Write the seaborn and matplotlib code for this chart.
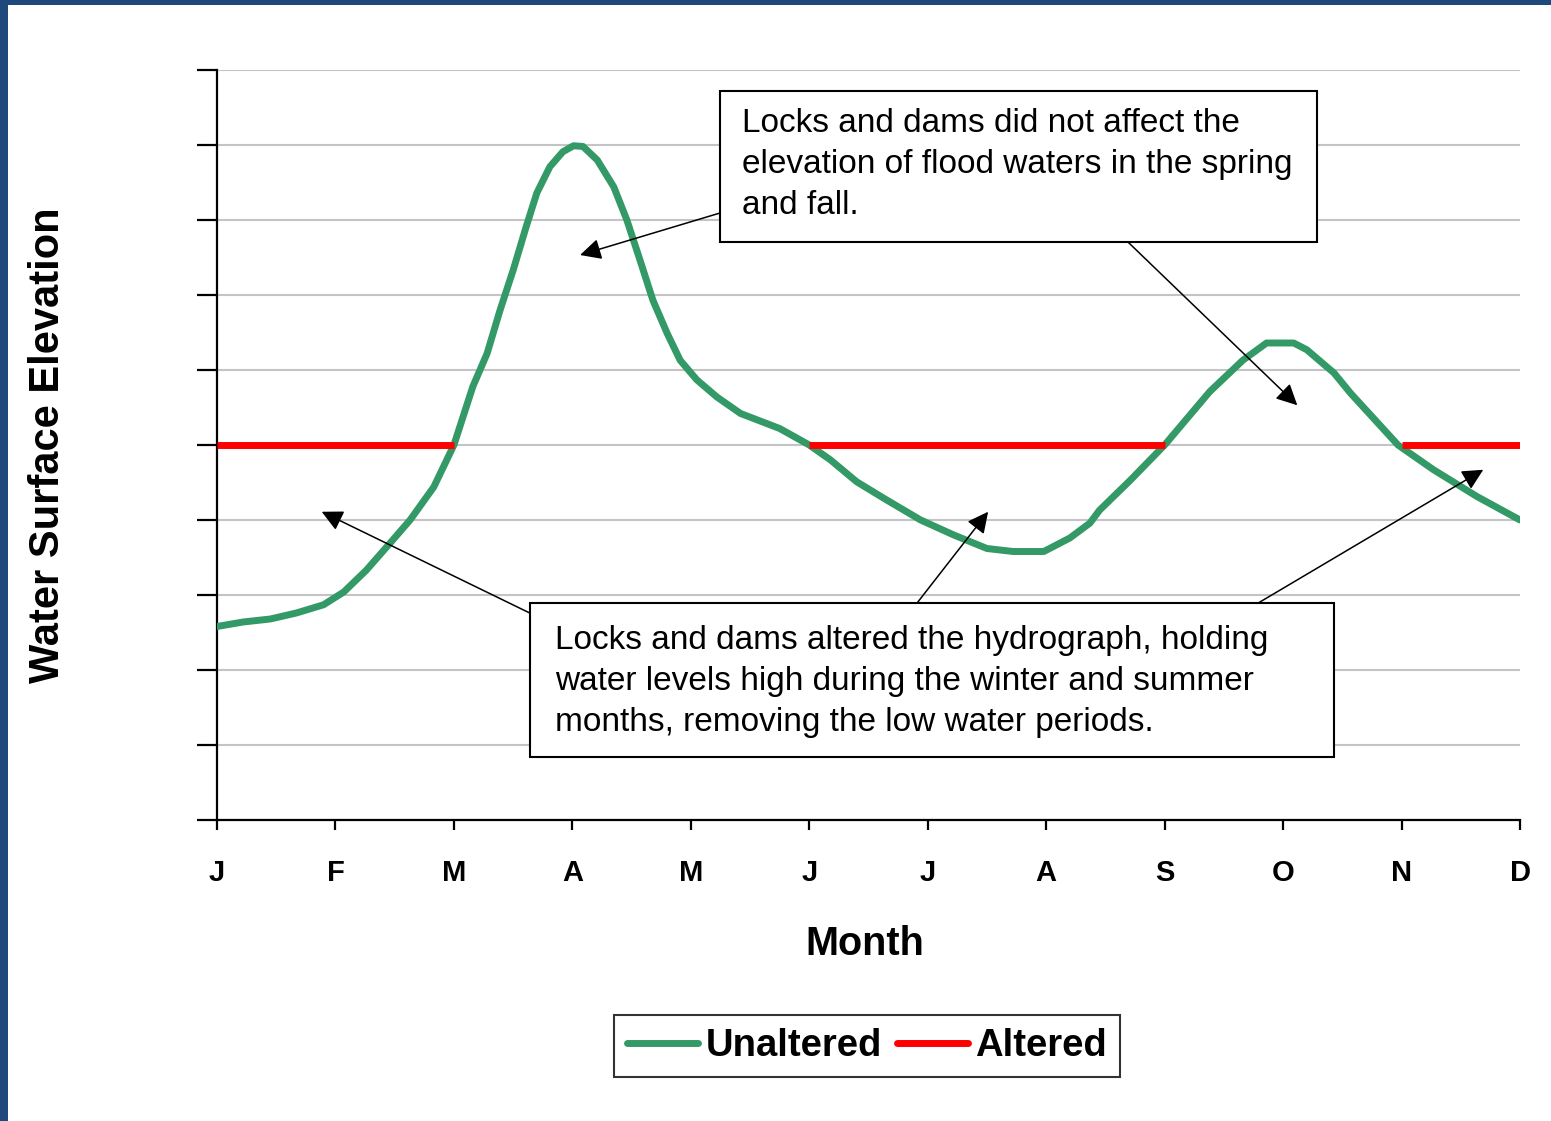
import pandas as pd
import seaborn as sns
import matplotlib.pyplot as plt
from matplotlib.lines import Line2D
from matplotlib.patches import Rectangle


months = ["J", "F", "M", "A", "M", "J", "J", "A", "S", "O", "N", "D"]

# green curve (x in months from January)
unaltered_x = [0.0, 0.22, 0.45, 0.67, 0.90, 1.07, 1.26, 1.46, 1.63, 1.83, 2.0,
               2.16, 2.28, 2.39, 2.50, 2.61, 2.70, 2.81, 2.92, 3.01, 3.09, 3.21,
               3.35, 3.46, 3.57, 3.68, 3.80, 3.91, 4.05, 4.22, 4.42, 4.75, 5.0,
               5.18, 5.40, 5.65, 5.94, 6.22, 6.50, 6.72, 6.98, 7.20, 7.37, 7.45,
               7.71, 8.0, 8.38, 8.66, 8.86, 9.09, 9.20, 9.43, 9.57, 9.97, 10.27,
               10.64, 11.0]
unaltered_y = [2.58, 2.64, 2.68, 2.76, 2.87, 3.04, 3.33, 3.69, 4.0, 4.44, 5.0,
               5.78, 6.22, 6.8, 7.33, 7.91, 8.36, 8.71, 8.91, 8.99, 8.98, 8.8,
               8.44, 8.0, 7.47, 6.93, 6.49, 6.13, 5.87, 5.64, 5.42, 5.22, 5.0,
               4.8, 4.51, 4.27, 4.0, 3.8, 3.62, 3.58, 3.58, 3.76, 3.96, 4.13,
               4.53, 5.0, 5.71, 6.13, 6.36, 6.36, 6.27, 5.96, 5.69, 5.0, 4.67,
               4.31, 4.0]

# red line: held level during winter / summer
altered_x = [0, 2, 5, 8, 10, 11]
altered_y = [5, 5, 5, 5, 5, 5]
altered_seg = [1, 1, 2, 2, 3, 3]

note_top = "Locks and dams did not affect the\nelevation of flood waters in the spring\nand fall."
note_bottom = ("Locks and dams altered the hydrograph, holding\nwater levels high during the winter and summer\n"
               "months, removing the low water periods.")

green = "#339966"
red = "#FF0000"

sns.set_style("white")
plt.rcParams["font.family"] = ["Liberation Sans", "DejaVu Sans"]
plt.rcParams["text.color"] = "black"
plt.rcParams["axes.labelcolor"] = "black"
plt.rcParams["xtick.color"] = "black"
plt.rcParams["ytick.color"] = "black"

df_u = pd.DataFrame({"x": unaltered_x, "y": unaltered_y})
df_a = pd.DataFrame({"x": altered_x, "y": altered_y, "seg": altered_seg})

fig = plt.figure(figsize=(15.51, 11.21), dpi=100)
ax = fig.add_axes([217 / 1551, 1 - 820 / 1121, 1303 / 1551, 750 / 1121])

sns.lineplot(data=df_u, x="x", y="y", color=green, lw=5, ax=ax, sort=False,
             solid_capstyle="round", solid_joinstyle="round", zorder=3)
sns.lineplot(data=df_a, x="x", y="y", units="seg", estimator=None, color=red,
             lw=5, ax=ax, zorder=4, solid_capstyle="butt")

ax.set_xlim(0, 11)
ax.set_ylim(0, 10)
ax.set_xticks(range(12))
ax.set_xticklabels(months, fontsize=21, fontweight="bold")
ax.set_yticks(range(11))
ax.set_yticklabels([])
ax.grid(axis="y", color="#c4c4c4", lw=1.5)
ax.grid(axis="x", visible=False)
for s in ["top", "right"]:
    ax.spines[s].set_visible(False)
for s in ["left", "bottom"]:
    ax.spines[s].set_color("black")
    ax.spines[s].set_linewidth(1.6)
ax.tick_params(axis="y", direction="out", length=14.5, width=1.6, color="black", left=True)
ax.tick_params(axis="x", direction="out", length=7, width=1.6, color="black", pad=21, bottom=True)

ax.set_xlabel("Month", fontsize=28.5, fontweight="bold")
ax.xaxis.set_label_coords(0.497, -0.14)
ax.set_ylabel("Water Surface Elevation", fontsize=30, fontweight="bold")
ax.yaxis.set_label_coords(-0.114, 0.5)

# annotation boxes
ax.add_patch(Rectangle((4.246, 7.707), 5.041, 2.013, facecolor="white",
                       edgecolor="black", lw=1.5, zorder=6))
ax.text(4.43, 9.5, note_top, fontsize=24, va="top", ha="left",
        linespacing=1.42, zorder=7)
ax.add_patch(Rectangle((2.64, 0.84), 6.79, 2.053, facecolor="white",
                       edgecolor="black", lw=1.5, zorder=6))
ax.text(2.853, 2.6, note_bottom, fontsize=24, va="top", ha="left",
        linespacing=1.42, zorder=7)

arrows = [((4.246, 8.093), (3.065, 7.533)),
          ((7.69, 7.707), (9.12, 5.53)),
          ((2.64, 2.76), (0.884, 4.11)),
          ((5.91, 2.893), (6.51, 4.11)),
          ((8.79, 2.893), (10.69, 4.67))]
for start, end in arrows:
    ax.annotate("", xy=end, xytext=start, zorder=5,
                arrowprops=dict(arrowstyle="-|>", color="black", lw=1.1,
                                mutation_scale=32, shrinkA=0, shrinkB=0))

handles = [Line2D([], [], color=green, lw=5), Line2D([], [], color=red, lw=5)]
leg = fig.legend(handles, ["Unaltered", "Altered"], loc="center",
                 bbox_to_anchor=(867 / 1551, 1 - 1046 / 1121), ncol=2,
                 prop={"weight": "bold", "size": 27.5}, frameon=True,
                 fancybox=False, edgecolor="black", handlelength=1.85,
                 handletextpad=0.2, columnspacing=0.4, borderpad=0.35,
                 borderaxespad=0)
leg.get_frame().set_linewidth(1.5)

# dark blue frame on the left and top edges
fig.patches.append(Rectangle((0, 0), 8 / 1551, 1, transform=fig.transFigure,
                             facecolor="#1F497D", edgecolor="none"))
fig.patches.append(Rectangle((0, 1 - 5 / 1121), 1, 5 / 1121, transform=fig.transFigure,
                             facecolor="#1F497D", edgecolor="none"))

fig.savefig("out.png", dpi=100)
